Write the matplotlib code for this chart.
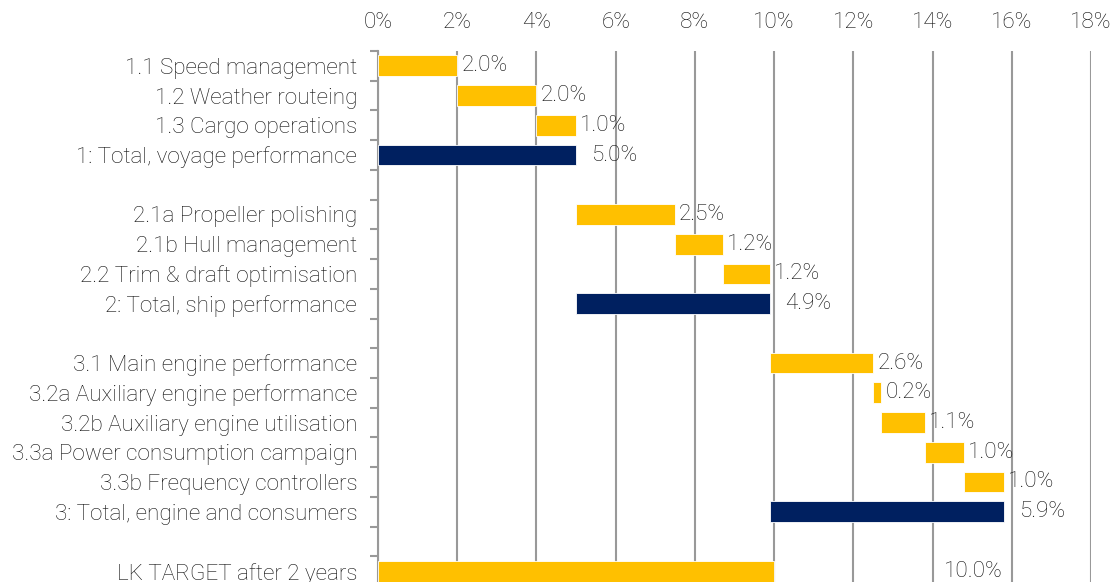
import matplotlib
matplotlib.use("Agg")
import matplotlib.pyplot as plt
import numpy as np

categories = [
    "1.1 Speed management", "1.2 Weather routeing", "1.3 Cargo operations",
    "1: Total, voyage performance", "",
    "2.1a Propeller polishing", "2.1b Hull management", "2.2 Trim & draft optimisation",
    "2: Total, ship performance", "",
    "3.1 Main engine performance", "3.2a Auxiliary engine performance",
    "3.2b Auxiliary engine utilisation", "3.3a Power consumption campaign",
    "3.3b Frequency controllers", "3: Total, engine and consumers", "",
    "LK TARGET after 2 years",
]
starts = [0.0, 2.0, 4.0, 0.0, None,
          5.0, 7.5, 8.7, 5.0, None,
          9.9, 12.5, 12.7, 13.8, 14.8, 9.9, None,
          0.0]
values = [2.0, 2.0, 1.0, 5.0, None,
          2.5, 1.2, 1.2, 4.9, None,
          2.6, 0.2, 1.1, 1.0, 1.0, 5.9, None,
          10.0]
kinds = ["step", "step", "step", "total", None,
         "step", "step", "step", "total", None,
         "step", "step", "step", "step", "step", "total", None,
         "target"]
xticks = list(range(0, 19, 2))

plt.rcParams['font.family'] = ['Roboto', 'DejaVu Sans']
plt.rcParams['font.weight'] = 'light'
YELLOW = "#FFC000"
NAVY = "#002060"
TXT = "#111111"
GRID = "#999999"
FS = 16.2

fig = plt.figure(figsize=(11.14, 5.82), dpi=100)
ax = fig.add_axes([378/1114, (582-586)/582, (1091-378)/1114, (586-51)/582])

n = len(categories)
ypos = np.arange(n)
label_offsets = {"step": 3, "total": 11, "target": 122}
for y, s, v, k in zip(ypos, starts, values, kinds):
    if v is None:
        continue
    color = NAVY if k == "total" else YELLOW
    ax.barh(y, v, left=s, height=0.7, color=color, edgecolor="white", linewidth=0.6, zorder=3)
    ax.annotate(f"{v:.1f}%", xy=(s + v, y), xytext=(label_offsets[k], 0),
                textcoords="offset points", va="center", ha="left",
                fontsize=FS, color=TXT, fontweight='light', zorder=4)

ax.set_xlim(0, 18)
ax.set_ylim(n - 0.5, -0.5)
ax.xaxis.tick_top()
ax.set_xticks(xticks)
ax.set_xticklabels([f"{t}%" for t in xticks], fontsize=FS, color=TXT, fontweight='light')
ax.tick_params(axis="x", length=0, pad=13)
ax.grid(axis="x", color=GRID, linewidth=1.5, zorder=0)

ax.set_yticks(ypos)
ax.set_yticklabels(categories, fontsize=FS, color=TXT, fontweight='light')
ax.tick_params(axis="y", which="major", length=0, pad=15)
ax.set_yticks(np.arange(-0.5, n, 1.0), minor=True)
ax.tick_params(axis="y", which="minor", length=6, width=1.5, color=GRID, direction="out")

for side in ["top", "right", "bottom"]:
    ax.spines[side].set_visible(False)
ax.spines["left"].set_color(GRID)
ax.spines["left"].set_linewidth(1.5)

fig.savefig("out.png", dpi=100)
